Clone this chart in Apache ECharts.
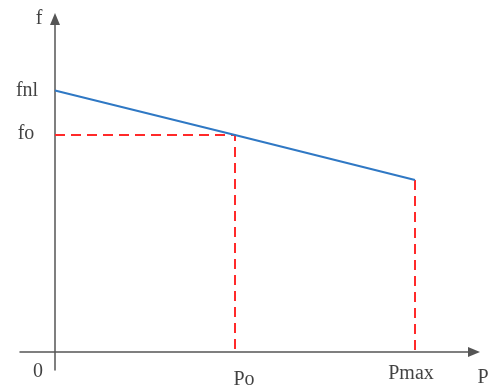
<!DOCTYPE html>
<html>
<head>
<meta charset="utf-8">
<script src="https://cdn.jsdelivr.net/npm/echarts@6/dist/echarts.min.js"></script>
<style>html,body{margin:0;padding:0;background:#fff;}#c{width:492px;height:387px;}</style>
</head>
<body>
<div id="c"></div>
<script>
// droop characteristic values (P in arbitrary units, f in arbitrary units)
const pValues = [0, 5, 10];          // 0, Po, Pmax
const fValues = [52.3, 43.4, 34.4];  // fnl, fo, f at Pmax
const pLabels = ['0', 'Po', 'Pmax'];
const fLabels = ['fnl', 'fo'];
const axisNames = ['P', 'f'];
const xRange = [-0.9722, 11.639];
const yRange = [-3.6, 66.6];

const chart = echarts.init(document.getElementById('c'), null, {renderer: 'canvas'});
const axisColor = '#555555';
const textStyle = {fontFamily: 'Liberation Serif', fontSize: 20, color: '#111111'};

function lab(x, y, text, offset) {
  return {
    value: [x, y],
    label: Object.assign({show: true, formatter: text, position: 'inside', align: 'center',
      verticalAlign: 'middle', offset: offset}, textStyle)
  };
}

const labelData = [
  lab(0, yRange[1], axisNames[1], [-16, 0]),
  lab(0, fValues[0], fLabels[0], [-28, 0]),
  lab(0, fValues[1], fLabels[1], [-29, -1]),
  lab(pValues[0], 0, pLabels[0], [-17, 20]),
  lab(pValues[1], 0, pLabels[1], [9, 28]),
  lab(pValues[2], 0, pLabels[2], [-4, 22]),
  lab(xRange[1], 0, axisNames[0], [9, 26])
];

chart.setOption({
  animation: false,
  backgroundColor: '#ffffff',
  grid: {left: 20, right: 18, top: 19, bottom: 17, containLabel: false},
  xAxis: {
    type: 'value', min: xRange[0], max: xRange[1],
    splitLine: {show: false}, axisTick: {show: false}, axisLabel: {show: false},
    axisLine: {show: true, onZero: true, symbol: ['none', 'triangle'], symbolSize: [10, 12],
      lineStyle: {color: axisColor, width: 1.5}}
  },
  yAxis: {
    type: 'value', min: yRange[0], max: yRange[1],
    splitLine: {show: false}, axisTick: {show: false}, axisLabel: {show: false},
    axisLine: {show: true, onZero: true, symbol: ['none', 'triangle'], symbolSize: [10, 12],
      lineStyle: {color: axisColor, width: 1.5}}
  },
  series: [
    {
      type: 'line', name: 'droop',
      data: pValues.map((p, i) => [p, fValues[i]]),
      showSymbol: false, symbol: 'none',
      lineStyle: {color: '#2f78c4', width: 2}, z: 3
    },
    {
      type: 'line', name: 'guideO',
      data: [[pValues[0], fValues[1]], [pValues[1], fValues[1]], [pValues[1], 0]],
      showSymbol: false, symbol: 'none',
      lineStyle: {color: '#ff2a2a', width: 2, type: [10, 6]}, z: 2
    },
    {
      type: 'line', name: 'guideMax',
      data: [[pValues[2], fValues[2]], [pValues[2], 0]],
      showSymbol: false, symbol: 'none',
      lineStyle: {color: '#ff2a2a', width: 2, type: [10, 6]}, z: 2
    },
    {
      type: 'scatter', name: 'labels', symbolSize: 0, silent: true,
      data: labelData, z: 5
    }
  ]
});
</script>
</body>
</html>
